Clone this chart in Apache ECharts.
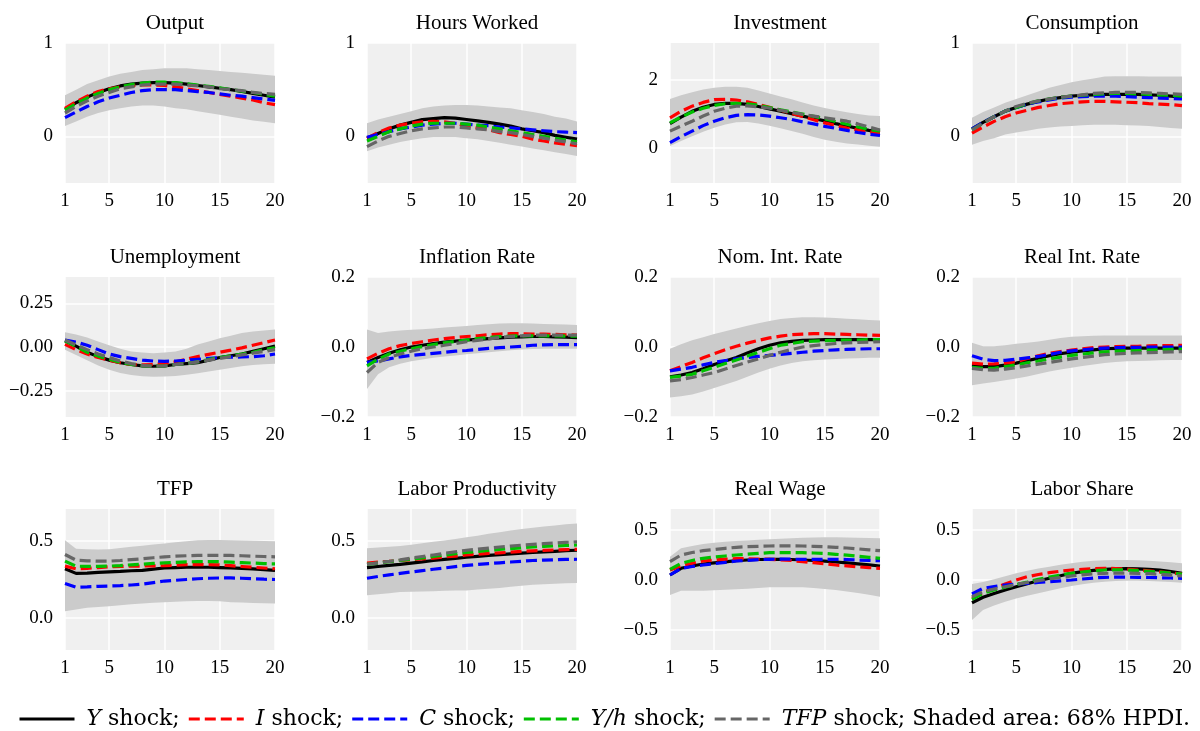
<!DOCTYPE html>
<html>
<head>
<meta charset="utf-8">
<script src="https://cdn.jsdelivr.net/npm/echarts@6/dist/echarts.min.js"></script>
<style>
html, body { margin: 0; padding: 0; background: #ffffff; }
#chart { width: 1200px; height: 731px; }
</style>
</head>
<body>
<div id="chart"></div>
<script>
// Horizon (quarters) and axis ticks
const periods = [1, 2, 3, 4, 5, 6, 7, 8, 9, 10, 11, 12, 13, 14, 15, 16, 17, 18, 19, 20];
const xTicks = [1, 5, 10, 15, 20];

// Shock names (legend) and the variables shown in each panel
const shockNames = ['Y', 'I', 'C', 'Y/h', 'TFP'];
const panelTitles = ['Output', 'Hours Worked', 'Investment', 'Consumption',
  'Unemployment', 'Inflation Rate', 'Nom. Int. Rate', 'Real Int. Rate',
  'TFP', 'Labor Productivity', 'Real Wage', 'Labor Share'];

// Y-axis ranges and tick labels per panel
const yRanges = [[-0.5, 1], [-0.5, 1], [-1.03, 3.07], [-0.5, 1],
  [-0.4, 0.4], [-0.2, 0.2], [-0.2, 0.2], [-0.2, 0.2],
  [-0.21, 0.71], [-0.21, 0.71], [-0.7, 0.71], [-0.7, 0.71]];
const yTicks = [[0, 1], [0, 1], [0, 2], [0, 1],
  [-0.25, 0, 0.25], [-0.2, 0, 0.2], [-0.2, 0, 0.2], [-0.2, 0, 0.2],
  [0, 0.5], [0, 0.5], [-0.5, 0, 0.5], [-0.5, 0, 0.5]];
const yDecimals = [0, 0, 0, 0, 2, 1, 1, 1, 1, 1, 1, 1];

// Impulse responses: Y, I, C, Y/h and TFP shocks; lo/hi = 68% HPDI band
const output = {
  Y:   [0.29,0.36,0.42,0.47,0.51,0.54,0.56,0.57,0.575,0.575,0.57,0.56,0.545,0.53,0.515,0.50,0.48,0.46,0.44,0.42],
  I:   [0.30,0.37,0.43,0.48,0.51,0.53,0.545,0.55,0.55,0.545,0.53,0.51,0.49,0.47,0.45,0.43,0.41,0.39,0.36,0.34],
  C:   [0.20,0.26,0.32,0.37,0.41,0.44,0.47,0.49,0.50,0.50,0.50,0.49,0.48,0.47,0.455,0.44,0.43,0.415,0.40,0.385],
  Yh:  [0.28,0.35,0.41,0.46,0.50,0.53,0.555,0.57,0.58,0.58,0.575,0.565,0.55,0.535,0.52,0.50,0.485,0.47,0.45,0.43],
  TFP: [0.25,0.32,0.38,0.43,0.47,0.51,0.53,0.55,0.56,0.56,0.56,0.55,0.54,0.53,0.51,0.50,0.49,0.47,0.46,0.45],
  hi:  [0.44,0.50,0.56,0.60,0.64,0.67,0.69,0.71,0.72,0.73,0.73,0.73,0.72,0.71,0.70,0.69,0.68,0.67,0.66,0.65],
  lo:  [0.11,0.16,0.21,0.25,0.28,0.30,0.32,0.33,0.33,0.32,0.30,0.29,0.27,0.25,0.23,0.21,0.19,0.17,0.155,0.14]
};
const hours = {
  Y:   [-0.02,0.03,0.08,0.12,0.15,0.18,0.19,0.20,0.195,0.18,0.165,0.15,0.13,0.11,0.08,0.06,0.04,0.01,-0.01,-0.03],
  I:   [-0.02,0.04,0.09,0.12,0.14,0.155,0.16,0.155,0.14,0.11,0.09,0.07,0.04,0.02,0.0,-0.03,-0.05,-0.07,-0.085,-0.10],
  C:   [-0.01,0.02,0.05,0.08,0.10,0.12,0.13,0.14,0.14,0.13,0.12,0.115,0.10,0.09,0.08,0.07,0.06,0.05,0.045,0.04],
  Yh:  [-0.05,0.0,0.05,0.08,0.11,0.13,0.14,0.14,0.14,0.13,0.12,0.10,0.08,0.06,0.04,0.02,0.0,-0.02,-0.04,-0.06],
  TFP: [-0.11,-0.05,0.0,0.03,0.06,0.08,0.09,0.10,0.10,0.09,0.08,0.07,0.05,0.04,0.02,0.0,-0.02,-0.04,-0.06,-0.08],
  hi:  [0.14,0.18,0.21,0.24,0.27,0.30,0.32,0.33,0.335,0.335,0.33,0.32,0.31,0.30,0.28,0.26,0.24,0.21,0.19,0.16],
  lo:  [-0.16,-0.12,-0.09,-0.06,-0.04,-0.02,-0.01,-0.01,-0.01,-0.02,-0.03,-0.05,-0.07,-0.09,-0.11,-0.13,-0.15,-0.17,-0.19,-0.21]
};
const investment = {
  Y:   [0.71,0.90,1.07,1.19,1.27,1.30,1.30,1.27,1.21,1.14,1.07,1.00,0.93,0.86,0.79,0.71,0.64,0.57,0.51,0.46],
  I:   [0.88,1.07,1.22,1.33,1.41,1.42,1.40,1.35,1.27,1.19,1.10,1.01,0.92,0.82,0.73,0.65,0.58,0.52,0.47,0.44],
  C:   [0.15,0.33,0.49,0.65,0.78,0.88,0.95,0.97,0.96,0.93,0.88,0.83,0.76,0.70,0.63,0.57,0.51,0.45,0.40,0.36],
  Yh:  [0.73,0.90,1.05,1.16,1.24,1.29,1.30,1.29,1.25,1.18,1.11,1.05,0.99,0.92,0.85,0.77,0.69,0.61,0.54,0.49],
  TFP: [0.49,0.64,0.78,0.93,1.07,1.16,1.22,1.23,1.20,1.16,1.10,1.04,0.98,0.93,0.88,0.83,0.78,0.70,0.61,0.52],
  hi:  [1.43,1.54,1.63,1.71,1.76,1.79,1.79,1.76,1.68,1.59,1.50,1.42,1.33,1.24,1.17,1.10,1.04,0.99,0.95,0.93],
  lo:  [0.05,0.20,0.34,0.47,0.59,0.68,0.75,0.76,0.71,0.65,0.57,0.49,0.41,0.32,0.24,0.18,0.13,0.10,0.06,0.03]
};
const consumption = {
  Y:   [0.08,0.15,0.21,0.27,0.31,0.345,0.375,0.40,0.415,0.43,0.44,0.445,0.45,0.45,0.45,0.45,0.445,0.44,0.43,0.42],
  I:   [0.035,0.10,0.16,0.21,0.25,0.28,0.31,0.33,0.35,0.36,0.37,0.375,0.375,0.37,0.365,0.36,0.35,0.345,0.34,0.33],
  C:   [0.08,0.15,0.21,0.27,0.31,0.345,0.37,0.39,0.41,0.42,0.425,0.43,0.43,0.43,0.425,0.42,0.415,0.41,0.405,0.40],
  Yh:  [0.07,0.14,0.21,0.27,0.31,0.35,0.38,0.40,0.42,0.43,0.44,0.45,0.455,0.46,0.46,0.455,0.45,0.445,0.44,0.43],
  TFP: [0.07,0.14,0.21,0.27,0.32,0.355,0.38,0.40,0.42,0.43,0.445,0.46,0.465,0.47,0.47,0.47,0.465,0.46,0.455,0.45],
  hi:  [0.20,0.26,0.31,0.36,0.40,0.44,0.48,0.52,0.55,0.58,0.60,0.62,0.64,0.645,0.645,0.645,0.64,0.64,0.64,0.64],
  lo:  [-0.09,-0.05,-0.02,0.02,0.04,0.06,0.08,0.095,0.105,0.11,0.12,0.125,0.125,0.125,0.12,0.115,0.11,0.10,0.09,0.08]
};
const unemployment = {
  Y:   [0.035,0.005,-0.03,-0.055,-0.075,-0.09,-0.10,-0.108,-0.11,-0.108,-0.10,-0.095,-0.09,-0.075,-0.06,-0.05,-0.04,-0.025,-0.01,0.005],
  I:   [0.015,-0.015,-0.04,-0.06,-0.075,-0.09,-0.10,-0.102,-0.10,-0.095,-0.085,-0.07,-0.055,-0.042,-0.03,-0.018,-0.005,0.01,0.025,0.04],
  C:   [0.04,0.028,0.01,-0.015,-0.04,-0.055,-0.065,-0.075,-0.08,-0.082,-0.08,-0.075,-0.07,-0.065,-0.06,-0.058,-0.057,-0.055,-0.05,-0.04],
  Yh:  [0.035,0.003,-0.03,-0.052,-0.07,-0.088,-0.10,-0.107,-0.11,-0.108,-0.10,-0.095,-0.085,-0.072,-0.06,-0.05,-0.04,-0.03,-0.015,-0.005],
  TFP: [0.04,0.012,-0.015,-0.04,-0.06,-0.08,-0.095,-0.105,-0.11,-0.108,-0.10,-0.095,-0.085,-0.075,-0.065,-0.055,-0.045,-0.035,-0.025,-0.015],
  hi:  [0.085,0.072,0.055,0.032,0.01,-0.01,-0.025,-0.032,-0.035,-0.032,-0.025,-0.01,0.015,0.032,0.05,0.065,0.08,0.088,0.095,0.10],
  lo:  [-0.015,-0.045,-0.075,-0.105,-0.13,-0.148,-0.16,-0.167,-0.17,-0.168,-0.165,-0.158,-0.15,-0.14,-0.13,-0.12,-0.11,-0.103,-0.098,-0.095]
};
const inflation = {
  Y:   [-0.044,-0.03,-0.018,-0.008,0.0,0.005,0.01,0.014,0.017,0.02,0.022,0.024,0.026,0.028,0.029,0.03,0.03,0.029,0.028,0.027],
  I:   [-0.034,-0.018,-0.005,0.004,0.01,0.015,0.02,0.024,0.027,0.03,0.032,0.035,0.037,0.038,0.038,0.037,0.037,0.036,0.035,0.034],
  C:   [-0.044,-0.04,-0.034,-0.028,-0.024,-0.021,-0.018,-0.015,-0.012,-0.01,-0.007,-0.004,-0.002,0.0,0.002,0.005,0.006,0.007,0.007,0.007],
  Yh:  [-0.054,-0.035,-0.02,-0.012,-0.005,0.001,0.007,0.012,0.016,0.02,0.024,0.027,0.03,0.031,0.032,0.032,0.032,0.032,0.031,0.031],
  TFP: [-0.073,-0.044,-0.03,-0.02,-0.012,-0.005,0.0,0.005,0.01,0.015,0.019,0.023,0.027,0.03,0.032,0.034,0.034,0.034,0.034,0.034],
  hi:  [0.05,0.04,0.044,0.047,0.049,0.051,0.053,0.056,0.058,0.06,0.063,0.065,0.067,0.068,0.068,0.067,0.066,0.065,0.064,0.063],
  lo:  [-0.12,-0.078,-0.058,-0.048,-0.041,-0.036,-0.031,-0.027,-0.024,-0.021,-0.018,-0.015,-0.012,-0.009,-0.007,-0.006,-0.005,-0.005,-0.005,-0.005]
};
const nomRate = {
  Y:   [-0.085,-0.08,-0.073,-0.062,-0.05,-0.04,-0.03,-0.017,-0.005,0.005,0.012,0.016,0.019,0.02,0.021,0.021,0.021,0.021,0.021,0.021],
  I:   [-0.068,-0.056,-0.044,-0.031,-0.019,-0.008,0.002,0.011,0.019,0.026,0.031,0.035,0.037,0.038,0.038,0.037,0.036,0.035,0.034,0.033],
  C:   [-0.068,-0.063,-0.058,-0.051,-0.044,-0.039,-0.034,-0.03,-0.027,-0.024,-0.021,-0.018,-0.015,-0.012,-0.01,-0.008,-0.007,-0.006,-0.005,-0.005],
  Yh:  [-0.087,-0.083,-0.078,-0.068,-0.058,-0.047,-0.037,-0.026,-0.015,-0.005,0.005,0.01,0.015,0.017,0.018,0.019,0.02,0.02,0.021,0.021],
  TFP: [-0.097,-0.093,-0.087,-0.08,-0.073,-0.063,-0.053,-0.043,-0.034,-0.024,-0.015,-0.007,0.0,0.004,0.007,0.01,0.012,0.013,0.014,0.015],
  hi:  [-0.005,0.008,0.019,0.028,0.037,0.045,0.053,0.061,0.068,0.074,0.08,0.083,0.085,0.085,0.084,0.083,0.081,0.079,0.077,0.076],
  lo:  [-0.144,-0.141,-0.136,-0.127,-0.117,-0.107,-0.097,-0.085,-0.073,-0.062,-0.053,-0.046,-0.041,-0.038,-0.036,-0.034,-0.033,-0.032,-0.031,-0.031]
};
const realRate = {
  Y:   [-0.051,-0.056,-0.056,-0.052,-0.046,-0.039,-0.032,-0.025,-0.019,-0.015,-0.011,-0.008,-0.005,-0.004,-0.003,-0.003,-0.003,-0.003,-0.003,-0.003],
  I:   [-0.046,-0.049,-0.048,-0.046,-0.042,-0.033,-0.025,-0.018,-0.013,-0.009,-0.005,-0.002,0.0,0.001,0.002,0.002,0.003,0.004,0.004,0.005],
  C:   [-0.025,-0.035,-0.039,-0.038,-0.035,-0.031,-0.027,-0.021,-0.015,-0.011,-0.008,-0.005,-0.003,-0.002,-0.001,-0.001,0.0,0.0,0.0,0.0],
  Yh:  [-0.058,-0.061,-0.061,-0.056,-0.051,-0.045,-0.04,-0.034,-0.029,-0.024,-0.02,-0.017,-0.014,-0.012,-0.011,-0.01,-0.009,-0.008,-0.007,-0.006],
  TFP: [-0.061,-0.065,-0.066,-0.063,-0.059,-0.054,-0.049,-0.044,-0.039,-0.034,-0.03,-0.026,-0.022,-0.02,-0.018,-0.017,-0.016,-0.015,-0.014,-0.013],
  hi:  [0.012,0.002,0.002,0.005,0.009,0.012,0.016,0.021,0.026,0.029,0.031,0.032,0.033,0.033,0.033,0.033,0.033,0.033,0.033,0.033],
  lo:  [-0.109,-0.104,-0.1,-0.095,-0.09,-0.084,-0.077,-0.07,-0.064,-0.059,-0.054,-0.05,-0.046,-0.043,-0.041,-0.04,-0.039,-0.038,-0.037,-0.037]
};
const tfp = {
  Y:   [0.32,0.29,0.292,0.296,0.30,0.303,0.307,0.31,0.318,0.325,0.328,0.33,0.33,0.33,0.328,0.326,0.323,0.319,0.315,0.31],
  I:   [0.337,0.32,0.323,0.328,0.333,0.335,0.337,0.338,0.339,0.34,0.344,0.347,0.348,0.347,0.345,0.34,0.335,0.33,0.325,0.32],
  C:   [0.224,0.20,0.202,0.205,0.207,0.21,0.214,0.22,0.23,0.24,0.245,0.25,0.255,0.258,0.26,0.26,0.258,0.255,0.252,0.25],
  Yh:  [0.37,0.337,0.335,0.336,0.337,0.341,0.346,0.35,0.355,0.359,0.362,0.365,0.367,0.367,0.366,0.363,0.36,0.357,0.354,0.352],
  TFP: [0.413,0.376,0.372,0.37,0.37,0.374,0.38,0.385,0.392,0.398,0.402,0.405,0.407,0.408,0.408,0.407,0.405,0.402,0.4,0.398],
  hi:  [0.506,0.45,0.447,0.446,0.448,0.455,0.463,0.47,0.478,0.485,0.493,0.5,0.506,0.508,0.508,0.506,0.505,0.503,0.501,0.5],
  lo:  [0.043,0.055,0.065,0.071,0.076,0.082,0.088,0.093,0.098,0.102,0.105,0.108,0.109,0.109,0.108,0.102,0.1,0.097,0.095,0.093]
};
const laborProd = {
  Y:   [0.328,0.335,0.342,0.349,0.357,0.365,0.374,0.381,0.388,0.395,0.401,0.407,0.412,0.417,0.422,0.426,0.43,0.434,0.438,0.441],
  I:   [0.357,0.363,0.368,0.374,0.379,0.384,0.39,0.397,0.403,0.41,0.415,0.42,0.424,0.428,0.433,0.437,0.44,0.443,0.445,0.447],
  C:   [0.258,0.27,0.28,0.29,0.299,0.308,0.317,0.325,0.334,0.342,0.348,0.354,0.359,0.364,0.369,0.374,0.377,0.379,0.381,0.382],
  Yh:  [0.349,0.357,0.366,0.374,0.382,0.391,0.4,0.409,0.418,0.426,0.433,0.44,0.447,0.452,0.457,0.462,0.466,0.469,0.472,0.475],
  TFP: [0.349,0.359,0.368,0.378,0.389,0.4,0.41,0.42,0.431,0.441,0.448,0.455,0.462,0.468,0.474,0.479,0.484,0.488,0.492,0.496],
  hi:  [0.454,0.458,0.463,0.468,0.476,0.486,0.496,0.505,0.515,0.525,0.536,0.548,0.559,0.569,0.579,0.588,0.596,0.603,0.61,0.616],
  lo:  [0.147,0.154,0.161,0.168,0.17,0.172,0.174,0.176,0.178,0.179,0.184,0.19,0.195,0.202,0.209,0.216,0.219,0.222,0.225,0.227]
};
const realWage = {
  Y:   [0.05,0.117,0.14,0.16,0.172,0.182,0.193,0.2,0.205,0.207,0.207,0.205,0.2,0.195,0.188,0.18,0.172,0.162,0.151,0.14],
  I:   [0.1,0.14,0.168,0.19,0.2,0.208,0.213,0.213,0.21,0.207,0.202,0.195,0.183,0.173,0.162,0.15,0.141,0.132,0.124,0.117],
  C:   [0.05,0.117,0.135,0.15,0.163,0.176,0.19,0.197,0.203,0.207,0.208,0.208,0.207,0.207,0.207,0.207,0.205,0.2,0.197,0.193],
  Yh:  [0.107,0.167,0.195,0.217,0.229,0.24,0.25,0.258,0.266,0.273,0.274,0.274,0.273,0.27,0.265,0.257,0.248,0.237,0.227,0.217],
  TFP: [0.183,0.25,0.275,0.293,0.305,0.317,0.327,0.333,0.337,0.34,0.341,0.341,0.34,0.337,0.333,0.327,0.32,0.311,0.302,0.293],
  hi:  [0.233,0.317,0.34,0.36,0.372,0.382,0.39,0.396,0.402,0.407,0.413,0.418,0.423,0.425,0.427,0.427,0.425,0.422,0.42,0.417],
  lo:  [-0.15,-0.107,-0.107,-0.107,-0.103,-0.098,-0.093,-0.087,-0.08,-0.073,-0.073,-0.073,-0.073,-0.08,-0.09,-0.1,-0.115,-0.13,-0.148,-0.167]
};
const laborShare = {
  Y:   [-0.227,-0.173,-0.135,-0.1,-0.068,-0.037,-0.007,0.018,0.043,0.067,0.083,0.097,0.107,0.111,0.113,0.112,0.107,0.098,0.085,0.067],
  I:   [-0.183,-0.127,-0.08,-0.04,0.0,0.033,0.055,0.073,0.088,0.1,0.107,0.113,0.117,0.115,0.11,0.1,0.092,0.082,0.071,0.06],
  C:   [-0.14,-0.083,-0.065,-0.05,-0.04,-0.033,-0.025,-0.017,-0.008,0.0,0.01,0.02,0.027,0.028,0.028,0.027,0.025,0.022,0.02,0.017],
  Yh:  [-0.193,-0.133,-0.1,-0.073,-0.045,-0.02,0.007,0.03,0.05,0.067,0.08,0.092,0.1,0.102,0.1,0.093,0.087,0.078,0.069,0.06],
  TFP: [-0.167,-0.117,-0.09,-0.067,-0.045,-0.025,-0.007,0.01,0.025,0.04,0.052,0.061,0.067,0.068,0.068,0.067,0.063,0.057,0.049,0.04],
  hi:  [-0.04,-0.02,0.007,0.037,0.067,0.092,0.114,0.133,0.152,0.168,0.183,0.193,0.198,0.2,0.2,0.198,0.193,0.186,0.177,0.167],
  lo:  [-0.4,-0.3,-0.255,-0.217,-0.185,-0.157,-0.133,-0.108,-0.083,-0.06,-0.042,-0.028,-0.017,-0.011,-0.008,-0.007,-0.009,-0.014,-0.02,-0.027]
};

const panels = [output, hours, investment, consumption,
  unemployment, inflation, nomRate, realRate,
  tfp, laborProd, realWage, laborShare];

// Drawing styles
const FONT = '"Liberation Serif", "Times New Roman", serif';
const LEGEND_FONT = '"DejaVu Serif", "Liberation Serif", serif';
const shockKeys = ['Y', 'I', 'C', 'Yh', 'TFP'];
const shockColors = ['#000000', '#ff0000', '#0000ff', '#00c000', '#666666'];
const shockDash = ['solid', [11, 5], [11, 5], [11, 5], [11, 5]];
const colLeft = [65, 367, 670, 972];
const rowTop = [43, 277, 509];
const rowHeight = [140, 140, 141];
const plotWidth = 210;

const minus = s => s.replace('-', '\u2212');

const grid = [], xAxis = [], yAxis = [], title = [], series = [];

panels.forEach((p, k) => {
  const r = Math.floor(k / 4), c = k % 4;
  grid.push({
    left: colLeft[c], top: rowTop[r], width: plotWidth, height: rowHeight[r],
    show: true, backgroundColor: '#f0f0f0', borderWidth: 0
  });
  xAxis.push({
    gridIndex: k, type: 'value', min: 1, max: 20,
    axisLine: { show: false },
    axisTick: { show: false, customValues: xTicks },
    axisLabel: { customValues: xTicks, color: '#000', fontFamily: FONT, fontSize: 19, margin: 9 },
    splitLine: { show: true, lineStyle: { color: '#ffffff', width: 1.5 } }
  });
  const dec = yDecimals[k];
  yAxis.push({
    gridIndex: k, type: 'value', min: yRanges[k][0], max: yRanges[k][1],
    axisLine: { show: false },
    axisTick: { show: false, customValues: yTicks[k] },
    axisLabel: {
      customValues: yTicks[k], color: '#000', fontFamily: FONT, fontSize: 19, margin: 12,
      formatter: v => minus((Math.abs(v) < 1e-9 ? 0 : v).toFixed(dec))
    },
    splitLine: { show: true, lineStyle: { color: '#ffffff', width: 1.5 } }
  });
  title.push({
    text: panelTitles[k], left: colLeft[c] + plotWidth / 2, top: rowTop[r] - 35,
    textAlign: 'center',
    textStyle: { fontFamily: FONT, fontSize: 21, fontWeight: 'normal', color: '#000' }
  });

  // 68% HPDI band: polygon along the upper bound and back along the lower bound
  series.push({
    type: 'custom', xAxisIndex: k, yAxisIndex: k, silent: true, z: 1,
    data: periods.map((x, i) => [x, p.lo[i], p.hi[i]]),
    encode: { x: 0, y: [1, 2] },
    renderItem: (params, api) => {
      if (params.dataIndex !== 0) return null;
      const upper = periods.map((x, i) => api.coord([x, p.hi[i]]));
      const lower = periods.map((x, i) => api.coord([x, p.lo[i]])).reverse();
      return {
        type: 'polygon',
        shape: { points: upper.concat(lower) },
        style: { fill: '#cbcbcb', stroke: null }
      };
    }
  });

  // Responses to each shock
  shockKeys.forEach((key, s) => {
    series.push({
      name: shockNames[s], type: 'line', xAxisIndex: k, yAxisIndex: k,
      symbol: 'none', z: 2 + s,
      color: shockColors[s],
      lineStyle: { color: shockColors[s], width: 3.2, type: shockDash[s] },
      data: periods.map((x, i) => [x, p[key][i]])
    });
  });
});

const chart = echarts.init(document.getElementById('chart'), null, { renderer: 'canvas' });
chart.setOption({
  animation: false,
  backgroundColor: '#ffffff',
  title, grid, xAxis, yAxis, series,
  legend: {
    data: shockNames,
    left: 18, top: 708, padding: 0,
    itemWidth: 55, itemHeight: 22, itemGap: 7.5,
    itemStyle: { opacity: 0 },
    lineStyle: { width: 3 },
    textStyle: {
      fontFamily: LEGEND_FONT, fontSize: 22, color: '#000',
      rich: { i: { fontFamily: LEGEND_FONT, fontSize: 22, fontStyle: 'italic', color: '#000' } }
    },
    formatter: name => name === 'TFP'
      ? ' {i|TFP} shock; Shaded area: 68% HPDI.'
      : ' {i|' + name + '} shock;'
  }
});
</script>
</body>
</html>
